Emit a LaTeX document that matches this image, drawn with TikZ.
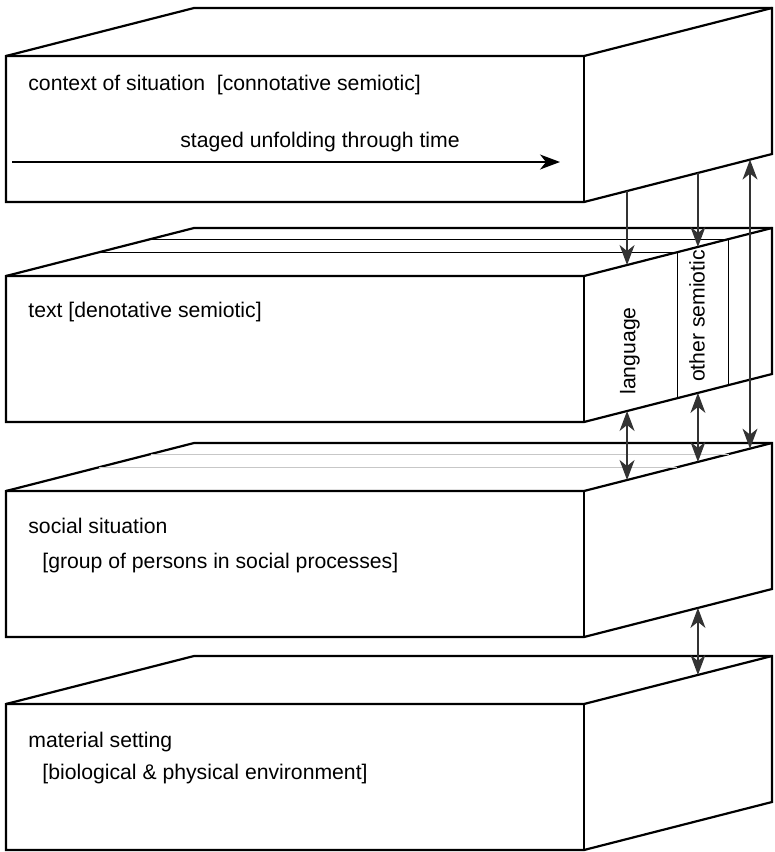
\documentclass[tikz,border=0pt]{standalone}
\usepackage{fontspec}
\setmainfont{Liberation Sans}
\usetikzlibrary{calc,arrows.meta}

% one slab: front face, top face and right face of a flat box
% #1 name, #2 y of the front top edge
\newcommand\drawslab[2]{%
  \coordinate (#1-ftl) at (6,#2);
  \coordinate (#1-ftr) at (584,#2);
  \coordinate (#1-fbr) at (584,#2+146);
  \coordinate (#1-fbl) at (6,#2+146);
  \coordinate (#1-btl) at ($(#1-ftl)+(188,-48)$);
  \coordinate (#1-btr) at ($(#1-ftr)+(188,-48)$);
  \coordinate (#1-bbr) at ($(#1-fbr)+(188,-48)$);
  \draw[edge] (#1-fbl) -- (#1-ftl) -- (#1-btl) -- (#1-btr) -- (#1-bbr) -- (#1-fbr) -- cycle;
  \draw[edge] (#1-ftl) -- (#1-ftr) -- (#1-btr);
  \draw[edge] (#1-ftr) -- (#1-fbr);
  % points on the upper and lower right edges at three depths
  \coordinate (#1-upa) at ($(#1-ftr)!0.229!(#1-btr)$);
  \coordinate (#1-loa) at ($(#1-fbr)!0.229!(#1-bbr)$);
  \coordinate (#1-upb) at ($(#1-ftr)!0.606!(#1-btr)$);
  \coordinate (#1-lob) at ($(#1-fbr)!0.606!(#1-bbr)$);
  \coordinate (#1-upc) at ($(#1-ftr)!0.883!(#1-btr)$);
  \coordinate (#1-loc) at ($(#1-fbr)!0.883!(#1-bbr)$);
}

\begin{document}
\begin{tikzpicture}[x=0.5pt,y=-0.5pt,
  edge/.style={line width=1.1pt,line join=miter},
  layer/.style={line width=0.55pt},
  faint/.style={line width=0.55pt,draw=black!22},
  tip/.tip={Stealth[length=10pt,width=7.5pt,inset=3pt]},
  link/.style={line width=0.65pt,draw=black!80},
  lbl/.style={anchor=base west,inner sep=0pt,font=\fontsize{10.6}{12.7}\selectfont},
  side/.style={rotate=90,inner sep=0pt,font=\fontsize{10.6}{12.7}\selectfont}]
\useasboundingbox (0,0) rectangle (775,852);

\drawslab{s1}{56}
\drawslab{s2}{276}
\drawslab{s3}{491}
\drawslab{s4}{704}

% depth divisions of the text slab: language / other semiotic / rest
\foreach \t in {0.497,0.769}{
  \draw[layer] ($(s2-ftl)!\t!(s2-btl)$) -- ($(s2-ftr)!\t!(s2-btr)$)
               -- ($(s2-fbr)!\t!(s2-bbr)$);
  \draw[faint] ($(s3-ftl)!\t!(s3-btl)$) -- ($(s3-ftr)!\t!(s3-btr)$);
}

% labels
\node[lbl] (ctx) at (28,90) {context of situation~ [connotative semiotic]};
\node[lbl,anchor=base] (stg) at (320,147) {staged unfolding through time};
\node[lbl] (txt) at (28,317) {text [denotative semiotic]};
\node[lbl] (soc) at (28,533) {social situation};
\node[lbl] (soc2) at (42,568) {[group of persons in social processes]};
\node[lbl] (mat) at (28,747) {material setting};
\node[lbl] (mat2) at (42,779) {[biological \& physical environment]};
\node[side] (lang) at (630,351) {language};
\node[side] (oth) at (697,316) {other semiotic};

% time arrow
\coordinate (t0) at (12,162);
\coordinate (t1) at (560,162);
\draw[link,draw=black,-tip] (t0) -- (t1);

% links between the strata
\draw[link,-tip] (s1-loa) -- (s2-upa);
\draw[link,-tip] (s1-lob) -- (s2-upb);
\draw[link,tip-tip] (s1-loc) -- (s3-upc);
\draw[link,tip-tip] (s2-loa) -- (s3-upa);
\draw[link,tip-tip] (s2-lob) -- (s3-upb);
\draw[link,tip-tip] (s3-lob) -- (s4-upb);
\end{tikzpicture}
\end{document}
